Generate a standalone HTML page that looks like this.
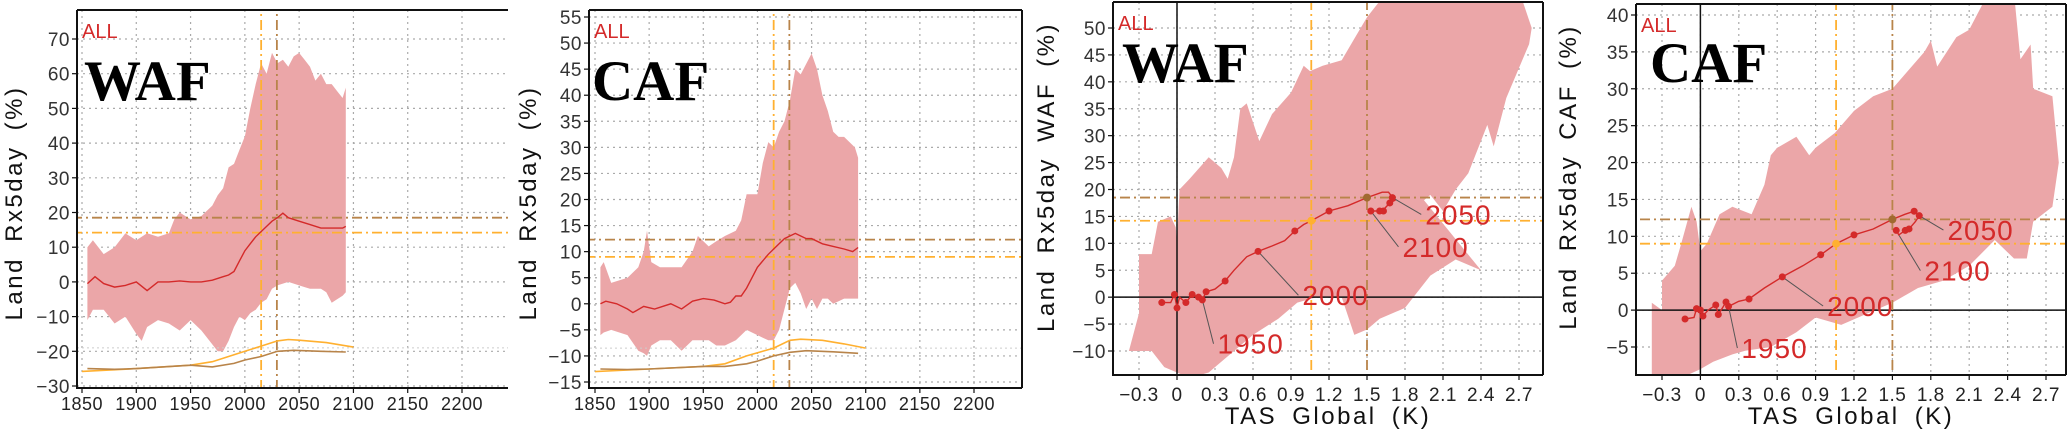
<!DOCTYPE html>
<html><head><meta charset="utf-8"><style>
html,body{margin:0;padding:0;background:#fff;}
svg{display:block;font-family:"Liberation Sans",sans-serif;}
</style></head><body>
<svg id="fig" width="2067" height="432" viewBox="0 0 2067 432" xmlns="http://www.w3.org/2000/svg"></svg>
<script>
// ---------- DATA ----------
const wafYears=[1855,1860,1870,1880,1890,1900,1905,1910,1920,1930,1935,1940,1950,1960,1970,1975,1980,1985,1990,1995,2000,2005,2010,2015,2020,2025,2030,2035,2040,2045,2050,2055,2060,2065,2070,2075,2080,2085,2090,2093];
const wafUpper=[10,12,8,10,14,12,13,14,13,14,18,20,18,19,22,25,27,33,34,38,42,50,57,63,60,66,63,64,62,65,66,64,62,58,60,57,57,55,53,56];
const wafLower=[-11,-8,-8,-12,-10,-15,-17,-13,-11,-12,-13,-14,-11,-14,-18,-20,-20,-17,-13,-10,-11,-9,-8,-6,-5,-2,-1,-0.5,0,-0.5,-1,-1.5,-2,-2,-2,-3,-6,-5,-4,-3];
const wafMeanYears=[1855,1862,1870,1880,1890,1900,1910,1920,1930,1940,1950,1960,1970,1980,1985,1990,1995,2000,2005,2010,2015,2020,2025,2030,2035,2040,2045,2050,2060,2070,2080,2090,2093];
const wafMean=[-0.5,1.5,-0.5,-1.5,-1,0,-2.5,0,0,0.3,0,0,0.5,1.5,2,3,6,9,11,13,14.5,16,17.5,18.5,19.8,18.5,18,17.5,16.5,15.5,15.5,15.5,16];
const wafOrangeYears=[1850,1900,1950,1970,1990,2000,2015,2030,2040,2050,2075,2100];
const wafOrange=[-25.8,-25,-24,-23,-21,-20,-18.5,-17,-16.6,-16.8,-17.5,-18.8];
const wafBrownYears=[1855,1880,1900,1950,1970,1990,2000,2015,2030,2045,2070,2093];
const wafBrown=[-25,-25.2,-25,-24,-24.5,-23.5,-22.5,-21.5,-20,-19.7,-20,-20.2];

const cafYears=[1855,1858,1865,1880,1890,1895,1898,1902,1910,1920,1930,1940,1945,1955,1962,1970,1980,1985,1990,2000,2005,2010,2015,2020,2025,2030,2035,2040,2045,2050,2055,2060,2065,2070,2075,2080,2085,2090,2093];
const cafUpper=[7,8,4,5,7,10,14,8,7,7,7,10,13,11,12,13,14,16,21,21,27,31,30,33,35,39,45,44,46,48,45,40,37,33,32,32,31,30,28];
const cafLower=[-6,-5.5,-5,-6,-9,-9.5,-10,-8,-7,-7,-9,-7,-7,-7,-8,-8,-7,-6,-5,-6,-6.5,-7,-7,-5,-1,3,4,2,-1,1,-1,1,1,0,0.5,1,1,1,1];
const cafMeanYears=[1855,1860,1870,1880,1885,1895,1905,1920,1930,1940,1950,1960,1970,1975,1980,1985,1990,1995,2000,2010,2015,2020,2025,2030,2035,2040,2045,2050,2060,2070,2080,2088,2093];
const cafMean=[0,0.5,0,-1,-1.7,-0.5,-1,0,-1,0.5,1,0.7,0,0.3,1.5,1.5,3,5,7,9.5,10.5,11.5,12.5,13,13.5,13,12.5,12.5,11.5,11,10.5,10,10.8];
const cafOrangeYears=[1850,1900,1950,1970,1990,2015,2030,2040,2060,2080,2100];
const cafOrange=[-13,-12.5,-12,-11.5,-10,-8.5,-7,-6.8,-7,-7.7,-8.5];
const cafBrownYears=[1855,1880,1900,1950,1970,1990,2000,2015,2030,2045,2070,2093];
const cafBrown=[-12.5,-12.6,-12.5,-12,-12,-11.5,-11,-10,-9.3,-9,-9.2,-9.5];

const wafBandX=[-0.38,-0.3,-0.3,-0.2,-0.15,-0.05,-0.01,0,0.02,0.1,0.25,0.35,0.4,0.45,0.5,0.55,0.65,0.75,0.9,1.0,1.05,1.15,1.3,1.4,1.5,1.6,1.7,2.7,2.8,2.78,2.6,2.5,2.45,2.3,2.2,2.1,2.0,1.95,2.4,2.2,2.0,1.8,1.6,1.5,1.4,1.3,1.1,0.95,0.8,0.6,0.45,0.35,0.25,0.1,0,-0.1,-0.2,-0.38];
const wafBandY=[-10,-3,8,8,14,15,13,10,20,22,26,24,22,26,35,36,29,34,38,43,42,43,44,48,52,55,57,57,50,47,37,28,32,23,20,16,19,18,5,7,4,-2,-4,-6,-7,0,0,-1,-4,-7,-10,-12,-14,-15,-14,-13,-10,-10];
const wafCurveX=[-0.12,-0.05,-0.02,0,0.02,0.07,0.12,0.17,0.2,0.23,0.3,0.38,0.45,0.55,0.64,0.75,0.85,0.93,1.0,1.06,1.2,1.35,1.5,1.62,1.67,1.72,1.68,1.62,1.58,1.55,1.53];
const wafCurveY=[-1,-1,0.5,-2,0,-1,0.5,0,-0.5,1,1.5,3,5,7.5,8.5,9.5,10.5,12.3,13.5,14.2,16,17,18.5,19.5,19.5,18,17.5,16,16,16,16.5];
const wafDotX=[-0.12,-0.02,0,0.07,0.12,0.17,0.2,0.23,0.38,0.64,0.93,1.2,1.53,1.6,1.63,1.68,1.7];
const wafDotY=[-1,0.5,-2,-1,0.5,0,-0.5,1,3,8.5,12.3,16,16,16,16,17.5,18.5];

const cafBandX=[-0.38,-0.38,-0.3,-0.3,-0.2,-0.15,-0.07,-0.03,0,0.05,0.15,0.25,0.4,0.5,0.55,0.6,0.75,0.85,0.9,1.05,1.2,1.35,1.5,1.6,1.75,1.8,1.85,2.0,2.1,2.25,2.45,2.5,2.58,2.6,2.75,2.8,2.75,2.6,2.55,2.45,2.3,2.1,1.9,1.7,1.5,1.3,1.1,0.9,0.75,0.55,0.35,0.25,0.1,0,-0.1];
const cafBandY=[-8.8,1,0,4,6,9,14,12,8,9,13,14,13,17,21,22,23.5,21,22,24,27,29,30,32,35,36.5,33,37,38,43,43,34,36,30,29,20,14,12,7,7,9.5,6,4,3,1,-0.5,-2,-1,-3,-5,-5.5,-6,-7,-8,-8.8];
const cafCurveX=[-0.12,-0.05,-0.03,0,0.02,0.06,0.12,0.14,0.18,0.2,0.22,0.3,0.38,0.5,0.64,0.8,0.94,1.06,1.2,1.35,1.5,1.6,1.67,1.71,1.68,1.63,1.6,1.55,1.53];
const cafCurveY=[-1.2,-1,0.2,0,-0.8,0,0.7,-0.6,0.5,1.1,0.5,1.2,1.5,3,4.5,6,7.5,9,10.2,11,12.3,13,13.4,12.8,12,11,10.8,10.2,10.8];
const cafDotX=[-0.12,-0.03,0,0.02,0.12,0.14,0.2,0.22,0.38,0.64,0.94,1.2,1.53,1.6,1.63,1.67,1.71];
const cafDotY=[-1.2,0.2,0,-0.8,0.7,-0.6,1.1,0.5,1.5,4.5,7.5,10.2,10.8,10.8,11,13.4,12.8];

// ---------- RENDER ----------
const NS="http://www.w3.org/2000/svg";
const svg=document.getElementById('fig');
function el(tag,attrs,parent){const e=document.createElementNS(NS,tag);for(const k in attrs)e.setAttribute(k,attrs[k]);(parent||svg).appendChild(e);return e;}
const FILL="#eba6a8",RED="#d42a2a",ORANGE="#ffb030",BROWN="#b8844a";

function makePanel(p){
  const g=el('g',{});
  
  
  const sx=v=>p.x0px+(v-p.x0v)*(p.x1px-p.x0px)/(p.x1v-p.x0v);
  const sy=v=>p.y0px+(v-p.y0v)*(p.y1px-p.y0px)/(p.y1v-p.y0v);
  const clip='c'+p.name;
  const cp=el('clipPath',{id:clip},g);el('rect',{x:p.L,y:p.T,width:p.R-p.L,height:p.B-p.T},cp);
  const inner=el('g',{'clip-path':'url(#'+clip+')'},g);
  for(const t of p.yt){el('line',{x1:p.L,x2:p.R,y1:sy(t),y2:sy(t),stroke:'#aaa','stroke-width':1.2,'stroke-dasharray':'2,4'},inner);}
  for(const t of p.xt){el('line',{x1:sx(t),x2:sx(t),y1:p.T,y2:p.B,stroke:'#aaa','stroke-width':1.2,'stroke-dasharray':'2,4'},inner);}
  p.draw(inner,sx,sy);
  el('path',{d:`M${p.L},${p.T}H${p.R}M${p.L},${p.T}V${p.B}H${p.R}`+(p.rightBorder?`M${p.R},${p.T}V${p.B}`:''),fill:'none',stroke:'#111','stroke-width':2},g);
  p.yt.forEach((t,i)=>{
    el('line',{x1:p.L-5,x2:p.L,y1:sy(t),y2:sy(t),stroke:'#111','stroke-width':1.2},g);
    const tx=el('text',{x:p.L-7,y:sy(t)+7,'text-anchor':'end','font-size':19,'letter-spacing':0.5,fill:'#333'},g);
    
    
    tx.textContent=p.ytl[i];
  });
  p.xt.forEach((t,i)=>{
    el('line',{x1:sx(t),x2:sx(t),y1:p.B,y2:p.B+5,stroke:'#111','stroke-width':1.2},g);
    const tx=el('text',{x:sx(t),y:p.B+p.xdy,'text-anchor':'middle','font-size':p.xfs,'letter-spacing':0.5,fill:'#222'},g);
    
    
    tx.textContent=p.xtl[i];
  });
  const a=el('text',{x:p.L+5,y:p.T+28,'font-size':20,fill:RED},g);
  
  
  a.textContent='ALL';
  const r=el('text',{x:p.L+p.regDx,y:p.regY,'font-size':57,'font-weight':'bold','font-family':'"Liberation Serif",serif',fill:'#000'},g);
  
  
  r.textContent=p.region;
  const yl=el('text',{x:0,y:0,transform:`translate(${p.ylx},${p.yly}) rotate(-90)`,'text-anchor':'middle','font-size':24,'letter-spacing':2.5,'word-spacing':6,fill:'#111'},g);
  
  
  yl.textContent=p.ylabel;
  if(p.xlabel){
    const xl=el('text',{x:(p.L+p.R)/2,y:424,'text-anchor':'middle','font-size':24,'letter-spacing':2.5,'word-spacing':6,fill:'#111'},g);
    
    
    xl.textContent=p.xlabel;
  }
}
function poly(xs,ys,sx,sy){return xs.map((x,i)=>`${i?'L':'M'}${sx(x).toFixed(1)},${sy(ys[i]).toFixed(1)}`).join('');}

function timeDraw(d){return (g,sx,sy)=>{
  let dd=poly(d.yr,d.up,sx,sy)+poly(d.yr.slice().reverse(),d.lo.slice().reverse(),sx,sy).replace('M','L')+'Z';
  const band=el('path',{d:dd,fill:FILL,stroke:'none'},g);
  
  
  el('line',{x1:sx(1850)-10,x2:sx(2250),y1:sy(d.gy),y2:sy(d.gy),stroke:'#ccc','stroke-width':1,'stroke-dasharray':'2,3'},g);
  [[d.hb,BROWN],[d.ho,ORANGE]].forEach(([v,c])=>{const l=el('line',{x1:sx(1850)-10,x2:sx(2250),y1:sy(v),y2:sy(v),stroke:c,'stroke-width':1.8,'stroke-dasharray':'10,4,2,4'},g);});
  [[d.vo,ORANGE],[d.vb,BROWN]].forEach(([v,c])=>{const l=el('line',{x1:sx(v),x2:sx(v),y1:0,y2:432,stroke:c,'stroke-width':1.8,'stroke-dasharray':'10,4,2,4'},g);});
  const o=el('path',{d:poly(d.oy,d.ov,sx,sy),fill:'none',stroke:ORANGE,'stroke-width':1.6},g);
  
  
  const b=el('path',{d:poly(d.by,d.bv,sx,sy),fill:'none',stroke:BROWN,'stroke-width':1.6},g);
  
  
  const m=el('path',{d:poly(d.my,d.mv,sx,sy),fill:'none',stroke:RED,'stroke-width':1.4},g);
  
  
};}

function scatDraw(d){return (g,sx,sy)=>{
  const band=el('path',{d:poly(d.bx,d.by,sx,sy)+'Z',fill:FILL,stroke:'none'},g);
  
  
  el('line',{x1:0,x2:2067,y1:sy(0),y2:sy(0),stroke:'#111','stroke-width':1.5},g);
  el('line',{x1:sx(0),x2:sx(0),y1:0,y2:432,stroke:'#111','stroke-width':1.5},g);
  [[d.hb,BROWN],[d.ho,ORANGE]].forEach(([v,c])=>{const l=el('line',{x1:0,x2:2067,y1:sy(v),y2:sy(v),stroke:c,'stroke-width':1.8,'stroke-dasharray':'10,4,2,4'},g);});
  [[1.06,ORANGE],[1.5,BROWN]].forEach(([v,c])=>{const l=el('line',{x1:sx(v),x2:sx(v),y1:0,y2:432,stroke:c,'stroke-width':1.8,'stroke-dasharray':'10,4,2,4'},g);});
  d.labels.forEach(([txt,px,py,lx,ly])=>{
    el('line',{x1:sx(px),y1:sy(py),x2:sx(lx)-4,y2:sy(ly)-10,stroke:'#555','stroke-width':1},g);
    const t=el('text',{x:sx(lx),y:sy(ly),'font-size':28,'letter-spacing':1,fill:RED},g);
    
    
    t.textContent=txt;
  });
  const m=el('path',{d:poly(d.cx,d.cy,sx,sy),fill:'none',stroke:RED,'stroke-width':1.4},g);
  
  
  d.dx.forEach((x,i)=>{const c=el('circle',{cx:sx(x),cy:sy(d.dy[i]),r:3.5,fill:RED},g);});
  const c1=el('circle',{cx:sx(1.06),cy:sy(d.ho),r:4,fill:ORANGE},g);
  const c2=el('circle',{cx:sx(1.5),cy:sy(d.hb),r:4,fill:'#a06a30'},g);
};}

const yrT=[1850,1900,1950,2000,2050,2100,2150,2200];
const tasT=[-0.3,0,0.3,0.6,0.9,1.2,1.5,1.8,2.1,2.4,2.7];
const tasTL=['\u22120.3','0','0.3','0.6','0.9','1.2','1.5','1.8','2.1','2.4','2.7'];
const neg=v=>v<0?'\u2212'+(-v):''+v;
const range=(a,b,s)=>{const r=[];for(let v=a;v<=b+1e-9;v+=s)r.push(+v.toFixed(2));return r;};

const p1y=range(-30,70,10);
makePanel({name:'panel-waf-time',L:77,T:10,R:508,B:388,x0v:1850,x1v:2200,x0px:82,x1px:462,y0v:-30,y1v:70,y0px:386,y1px:39,
  yt:p1y,ytl:p1y.map(neg),xt:yrT,xtl:yrT,xfs:18,xdy:22,region:'WAF',regDx:7,regY:100,ylabel:'Land Rx5day (%)',ylx:22,yly:203,
  draw:timeDraw({yr:wafYears,up:wafUpper,lo:wafLower,my:wafMeanYears,mv:wafMean,oy:wafOrangeYears,ov:wafOrange,by:wafBrownYears,bv:wafBrown,hb:18.5,ho:14.2,vo:2015,vb:2029.5,gy:-19})});
const p2y=range(-15,55,5);
makePanel({name:'panel-caf-time',L:589,T:10,R:1022,B:388,rightBorder:true,x0v:1850,x1v:2200,x0px:595,x1px:974,y0v:-15,y1v:55,y0px:382,y1px:17,
  yt:p2y,ytl:p2y.map(neg),xt:yrT,xtl:yrT,xfs:18,xdy:22,region:'CAF',regDx:3,regY:100,ylabel:'Land Rx5day (%)',ylx:536,yly:203,
  draw:timeDraw({yr:cafYears,up:cafUpper,lo:cafLower,my:cafMeanYears,mv:cafMean,oy:cafOrangeYears,ov:cafOrange,by:cafBrownYears,bv:cafBrown,hb:12.3,ho:9,vo:2015,vb:2029.5,gy:-8.5})});
const p3y=range(-10,50,5);
makePanel({name:'panel-waf-tas',L:1113,T:2,R:1543,B:375,rightBorder:true,x0v:-0.3,x1v:2.7,x0px:1139,x1px:1519,y0v:-10,y1v:50,y0px:351,y1px:28,
  yt:p3y,ytl:p3y.map(neg),xt:tasT,xtl:tasTL,xfs:19,xdy:26,region:'WAF',regDx:9,regY:82,ylabel:'Land Rx5day WAF (%)',ylx:1054,yly:177,xlabel:'TAS Global (K)',
  draw:scatDraw({bx:wafBandX,by:wafBandY,cx:wafCurveX,cy:wafCurveY,dx:wafDotX,dy:wafDotY,hb:18.5,ho:14.2,
    labels:[['1950',0.2,-0.5,0.32,-10.5],['2000',0.64,8.5,0.99,-1.5],['2050',1.7,18.5,1.96,13.5],['2100',1.53,16,1.78,7.5]]})});
const p4y=range(-5,40,5);
makePanel({name:'panel-caf-tas',L:1636,T:4,R:2066,B:375,rightBorder:true,x0v:-0.3,x1v:2.7,x0px:1662,x1px:2046,y0v:-5,y1v:40,y0px:347,y1px:15,
  yt:p4y,ytl:p4y.map(neg),xt:tasT,xtl:tasTL,xfs:19,xdy:26,region:'CAF',regDx:14,regY:82,ylabel:'Land Rx5day CAF (%)',ylx:1576,yly:177,xlabel:'TAS Global (K)',
  draw:scatDraw({bx:cafBandX,by:cafBandY,cx:cafCurveX,cy:cafCurveY,dx:cafDotX,dy:cafDotY,hb:12.3,ho:9,
    labels:[['1950',0.22,0.5,0.32,-6.5],['2000',0.64,4.5,0.99,-0.8],['2050',1.71,12.8,1.93,9.5],['2100',1.55,10.2,1.75,4]]})});
</script>
</body></html>
